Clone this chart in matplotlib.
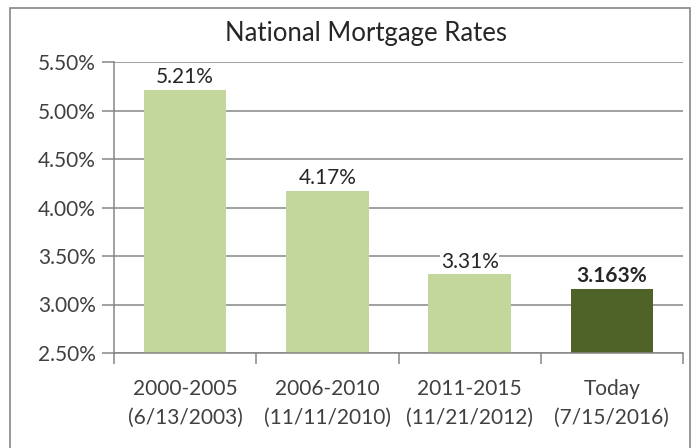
import matplotlib.pyplot as plt
from matplotlib.patches import Rectangle
from matplotlib.ticker import FixedLocator

periods = ["2000-2005\n(6/13/2003)", "2006-2010\n(11/11/2010)",
           "2011-2015\n(11/21/2012)", "Today\n(7/15/2016)"]
rates = [5.21, 4.17, 3.31, 3.163]
rate_labels = ["5.21%", "4.17%", "3.31%", "3.163%"]
y_ticks = [2.5, 3.0, 3.5, 4.0, 4.5, 5.0, 5.5]

LIGHT = "#C3D69B"
DARK = "#4F6228"
GRID = "#868686"
TEXT = "#404040"
FS = 15

plt.rcParams["font.family"] = ["Lato", "DejaVu Sans"]

fig = plt.figure(figsize=(6.99, 4.48), dpi=100)
fig.patch.set_facecolor("white")

# chart border
fig.patches.append(Rectangle((10 / 699, -0.05), 680 / 699, 1.05 - 8 / 448,
                             transform=fig.transFigure, fill=False,
                             edgecolor=GRID, linewidth=1.2))

ax = fig.add_axes([114 / 699, 1 - 353 / 448, 569 / 699, 291 / 448])

x = range(len(rates))
colors = [LIGHT, LIGHT, LIGHT, DARK]
bars = ax.bar(x, rates, width=0.58, color=colors, zorder=2)

ax.set_ylim(2.5, 5.5)
ax.set_xlim(-0.5, len(rates) - 0.5)
ax.set_yticks(y_ticks)
ax.set_yticklabels([f"{v:.2f}%" for v in y_ticks])
ax.yaxis.grid(True, color=GRID, linewidth=1.1, zorder=0)
ax.set_axisbelow(True)

ax.set_xticks(list(x))
ax.set_xticklabels(periods)
ax.xaxis.set_minor_locator(FixedLocator([i - 0.5 for i in range(len(rates) + 1)]))
ax.tick_params(axis="x", which="major", length=0, pad=19, labelsize=FS, labelcolor=TEXT)
ax.tick_params(axis="x", which="minor", length=8, width=1.1, color=GRID, direction="out")
ax.tick_params(axis="y", length=9, width=1.1, color=GRID, pad=4, labelsize=FS, labelcolor=TEXT)
for lab in ax.get_xticklabels():
    lab.set_linespacing(1.5)

for s in ["top", "right"]:
    ax.spines[s].set_visible(False)
for s in ["left", "bottom"]:
    ax.spines[s].set_color(GRID)
    ax.spines[s].set_linewidth(1.1)

for i, (b, lab) in enumerate(zip(bars, rate_labels)):
    ax.annotate(lab, (b.get_x() + b.get_width() / 2, b.get_height()),
                xytext=(0, 2), textcoords="offset points",
                ha="center", va="bottom", fontsize=FS,
                fontweight="bold" if i == len(rates) - 1 else "normal",
                color="#262626",
                bbox=dict(facecolor="white", edgecolor="none", pad=0.5),
                zorder=3)

fig.text(0.524, 1 - 33 / 448, "National Mortgage Rates", ha="center", va="center",
         fontsize=18.5, color="#262626")

fig.savefig("out.png", dpi=100)
